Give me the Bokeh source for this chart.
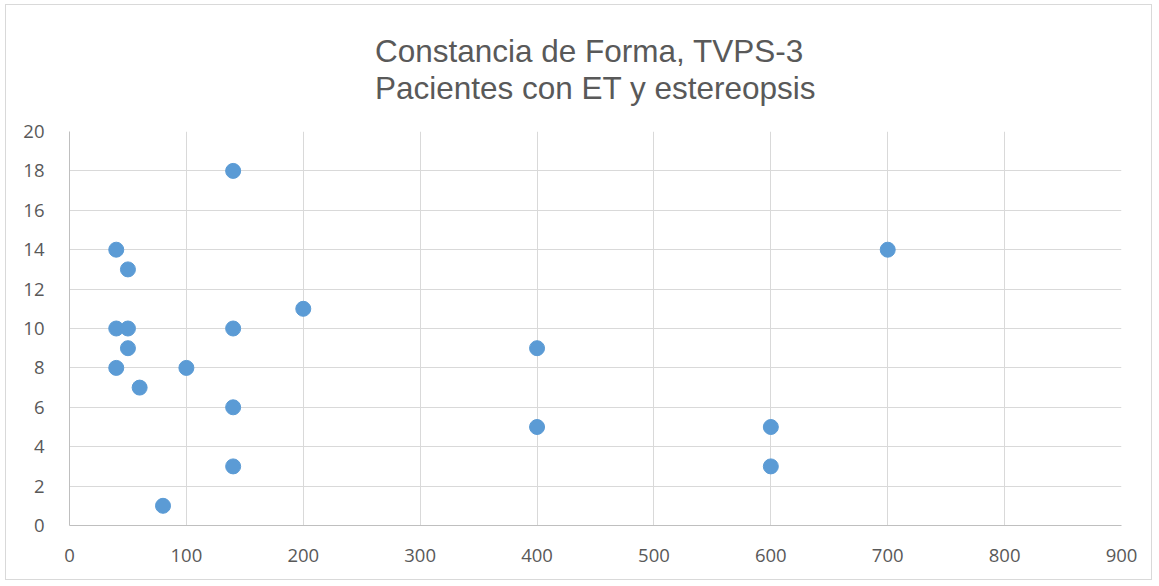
from bokeh.plotting import figure
from bokeh.models import Range1d, FixedTicker, Title
from bokeh.embed import file_html
from bokeh.resources import INLINE

estereopsis = [40, 40, 40, 50, 50, 50, 60, 80, 100, 140, 140, 140, 140, 200, 400, 400, 600, 600, 700]
constancia = [14, 10, 8, 13, 10, 9, 7, 1, 8, 18, 10, 6, 3, 11, 9, 5, 5, 3, 14]
x_ticks = [0, 100, 200, 300, 400, 500, 600, 700, 800, 900]
y_ticks = [0, 2, 4, 6, 8, 10, 12, 14, 16, 18, 20]
title_text = "Constancia de Forma, TVPS-3\nPacientes con ET y estereopsis"

p = figure(width=1147, height=576, output_backend="svg", toolbar_location=None,
           x_range=Range1d(0, 900), y_range=Range1d(0, 20),
           min_border_left=63, min_border_right=32, min_border_top=126, min_border_bottom=56)
p.styles = {"border": "1px solid #d9d9d9", "margin-left": "5px", "margin-top": "4px"}
p.title = Title(text=title_text,
                align="center", text_font="Liberation Sans", text_font_size="31.5px",
                text_font_style="normal", text_color="#595959", standoff=51,
                text_line_height=1.03)
p.outline_line_color = None

p.scatter(estereopsis, constancia, size=15, color="#5B9BD5", line_color="#5B9BD5")

for ax in (p.xaxis, p.yaxis):
    ax.major_tick_line_color = None
    ax.minor_tick_line_color = None
    ax.major_label_text_font = "Open Sans"
    ax.major_label_text_font_size = "18.5px"
    ax.major_label_text_color = "#595959"
    ax.axis_line_color = "#bfbfbf"
p.xaxis.ticker = FixedTicker(ticks=x_ticks)
p.yaxis.ticker = FixedTicker(ticks=y_ticks)
p.xaxis.major_label_standoff = 17
p.yaxis.major_label_standoff = 19
p.xgrid.grid_line_color = "#d9d9d9"
p.ygrid.grid_line_color = "#d9d9d9"
p.xgrid.ticker = FixedTicker(ticks=x_ticks)
p.ygrid.ticker = FixedTicker(ticks=y_ticks)

open("out.html", "w").write(file_html(p, INLINE))
